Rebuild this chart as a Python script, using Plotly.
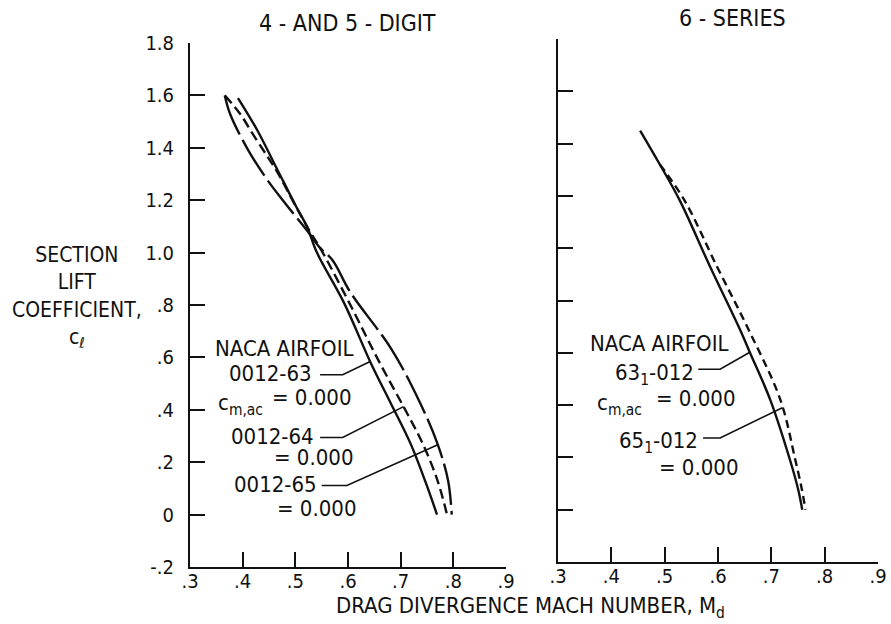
import numpy as np
import plotly.graph_objects as go

# ---- data: drag-divergence Mach number vs. section lift coefficient ----
# 4- and 5-digit sections
mach_0012_63 = [0.391, 0.427, 0.465, 0.503, 0.522, 0.541, 0.592, 0.643, 0.680, 0.719, 0.748, 0.769]
cl_0012_63 = [1.59, 1.47, 1.32, 1.17, 1.10, 1.00, 0.81, 0.58, 0.43, 0.27, 0.12, 0.00]

mach_0012_64 = [0.366, 0.395, 0.420, 0.446, 0.465, 0.500, 0.525, 0.552, 0.602, 0.660, 0.706, 0.742, 0.770, 0.788]
cl_0012_64 = [1.60, 1.53, 1.45, 1.37, 1.31, 1.18, 1.09, 1.00, 0.81, 0.58, 0.41, 0.27, 0.13, 0.00]

mach_0012_65 = [0.366, 0.376, 0.408, 0.446, 0.484, 0.520, 0.546, 0.571, 0.604, 0.683, 0.736, 0.770, 0.790, 0.797]
cl_0012_65 = [1.60, 1.53, 1.40, 1.28, 1.18, 1.09, 1.02, 0.97, 0.85, 0.63, 0.43, 0.27, 0.13, 0.00]

# 6-series sections
mach_631_012 = [0.454, 0.491, 0.529, 0.585, 0.641, 0.660, 0.698, 0.735, 0.750, 0.758]
cl_631_012 = [1.45, 1.32, 1.18, 0.93, 0.69, 0.60, 0.42, 0.19, 0.08, 0.00]

mach_651_012 = [0.491, 0.538, 0.598, 0.657, 0.717, 0.745, 0.757, 0.764]
cl_651_012 = [1.32, 1.18, 0.93, 0.69, 0.42, 0.19, 0.08, 0.00]

x_ticks = [0.3, 0.4, 0.5, 0.6, 0.7, 0.8, 0.9]
x_tick_text = [".3", ".4", ".5", ".6", ".7", ".8", ".9"]
y_ticks = [-0.2, 0.0, 0.2, 0.4, 0.6, 0.8, 1.0, 1.2, 1.4, 1.6, 1.8]
y_tick_text = ["-.2", "0", ".2", ".4", ".6", ".8", "1.0", "1.2", "1.4", "1.6", "1.8"]

W, H = 891, 624
FONT = "Liberation Sans Narrow, DejaVu Sans Condensed, Arial Narrow, Liberation Sans, sans-serif"
INK = "#111111"


def px(x):
    return x / W


def py(y):
    return 1 - y / H


def cl_to_mach(mach, cl, value):
    # curves run with decreasing cl; interpolate Mach at a given cl
    return float(np.interp(value, cl[::-1], mach[::-1]))


fig = go.Figure()

curve_style = dict(mode="lines", hoverinfo="skip", showlegend=False)
fig.add_trace(go.Scatter(x=mach_0012_63, y=cl_0012_63, line=dict(color=INK, width=2.4, shape="spline"),
                         xaxis="x", yaxis="y", **curve_style))
fig.add_trace(go.Scatter(x=mach_0012_64, y=cl_0012_64, line=dict(color=INK, width=2.4, dash="10px,5px", shape="spline"),
                         xaxis="x", yaxis="y", **curve_style))
fig.add_trace(go.Scatter(x=mach_0012_65, y=cl_0012_65, line=dict(color=INK, width=2.4, dash="42px,6px", shape="spline"),
                         xaxis="x", yaxis="y", **curve_style))
fig.add_trace(go.Scatter(x=mach_631_012, y=cl_631_012, line=dict(color=INK, width=2.4, shape="spline"),
                         xaxis="x2", yaxis="y2", **curve_style))
fig.add_trace(go.Scatter(x=mach_651_012, y=cl_651_012, line=dict(color=INK, width=2.4, dash="8px,5px", shape="spline"),
                         xaxis="x2", yaxis="y2", **curve_style))

# leader lines from the labels to the curves
leader_style = dict(mode="lines", hoverinfo="skip", showlegend=False, line=dict(color=INK, width=1.6))
left_leaders = [
    (0.547, 0.590, 0.534, mach_0012_63, cl_0012_63, 0.584),
    (0.547, 0.590, 0.294, mach_0012_64, cl_0012_64, 0.412),
    (0.550, 0.598, 0.111, mach_0012_65, cl_0012_65, 0.267),
]
for x0, xe, yl, m, c, cl_end in left_leaders:
    fig.add_trace(go.Scatter(x=[x0, xe, cl_to_mach(m, c, cl_end)], y=[yl, yl, cl_end],
                             xaxis="x", yaxis="y", **leader_style))
right_leaders = [
    (0.563, 0.604, 0.537, mach_631_012, cl_631_012, 0.602),
    (0.572, 0.604, 0.274, mach_651_012, cl_651_012, 0.390),
]
for x0, xe, yl, m, c, cl_end in right_leaders:
    fig.add_trace(go.Scatter(x=[x0, xe, cl_to_mach(m, c, cl_end)], y=[yl, yl, cl_end],
                             xaxis="x2", yaxis="y2", **leader_style))

axis_common = dict(
    showgrid=False, zeroline=False, showline=True, linecolor=INK, linewidth=2,
    ticks="inside", tickcolor=INK, tickwidth=2, ticklen=15, automargin=False,
    tickfont=dict(family=FONT, size=20, color=INK), fixedrange=True,
)

fig.update_layout(
    width=W, height=H, margin=dict(l=0, r=0, t=0, b=0, autoexpand=False),
    paper_bgcolor="white", plot_bgcolor="white",
    xaxis=dict(domain=[px(190), px(506)], range=[0.3, 0.9], tickvals=x_ticks, ticktext=x_tick_text,
               anchor="y", ticklabelstandoff=-5, **axis_common),
    yaxis=dict(domain=[py(567), py(43)], range=[-0.2, 1.8], tickvals=y_ticks, ticktext=y_tick_text,
               anchor="x", ticklabelstandoff=10, **axis_common),
    xaxis2=dict(domain=[px(558), px(878)], range=[0.3, 0.9], tickvals=x_ticks, ticktext=x_tick_text,
                anchor="y2", ticklabelstandoff=-5, **axis_common),
    yaxis2=dict(domain=[py(562), py(39)], range=[-0.2, 1.8], tickvals=y_ticks, showticklabels=False,
                anchor="x2", **axis_common),
)


def note(text, x, y, size=22, xanchor="center", yanchor="middle"):
    fig.add_annotation(text=text, x=px(x), y=py(y), xref="paper", yref="paper",
                       xanchor=xanchor, yanchor=yanchor, showarrow=False,
                       font=dict(family=FONT, size=size, color=INK))


# panel headings and axis titles
note("4 - AND 5 - DIGIT", 347, 23, size=23)
note("6 - SERIES", 732, 18, size=23)
note("SECTION<br>LIFT<br>COEFFICIENT,<br>c<sub>ℓ</sub>", 77, 297, size=21)
note("DRAG DIVERGENCE MACH NUMBER, M<sub>d</sub>", 530, 591, size=22, yanchor="top")

# left-panel labels
note("NACA AIRFOIL", 284, 348)
note("0012-63", 314, 373, xanchor="right")
note("c<sub>m,ac</sub>", 216, 404, xanchor="left")
note("= 0.000", 312, 397)
note("0012-64", 316, 436, xanchor="right")
note("= 0.000", 314, 458)
note("0012-65", 319, 484, xanchor="right")
note("= 0.000", 317, 508)

# right-panel labels
note("NACA AIRFOIL", 659, 343)
note("63<sub>1</sub>-012", 696, 374, xanchor="right")
note("c<sub>m,ac</sub>", 595, 404, xanchor="left")
note("= 0.000", 696, 398)
note("65<sub>1</sub>-012", 700, 442, xanchor="right")
note("= 0.000", 699, 467)

fig.write_html("out.html")
